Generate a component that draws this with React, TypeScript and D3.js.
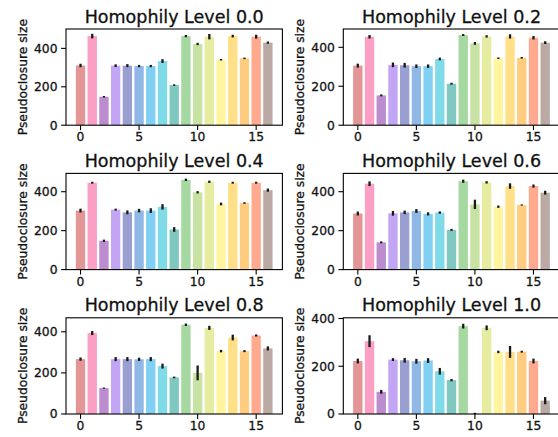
import React from "react";
import * as d3 from "d3";

const categories = d3.range(17);
const levels = ["0.0", "0.2", "0.4", "0.6", "0.8", "1.0"];

const means00 = [311, 464, 148, 310, 310, 308, 308, 334, 209, 464, 423, 461, 341, 464, 348, 461, 430];
const errs00 = [9, 12, 4, 7, 8, 6, 6, 10, 4, 6, 6, 14, 4, 7, 4, 10, 6];
const means02 = [306, 454, 153, 310, 308, 303, 303, 340, 213, 463, 420, 456, 344, 456, 346, 449, 424];
const errs02 = [10, 9, 5, 12, 12, 9, 9, 7, 5, 5, 7, 6, 4, 11, 4, 9, 7];
const means04 = [303, 446, 148, 308, 294, 303, 303, 322, 206, 461, 397, 451, 337, 446, 342, 446, 408];
const errs04 = [10, 5, 6, 5, 10, 9, 12, 14, 12, 6, 6, 6, 7, 5, 4, 5, 8];
const means06 = [288, 441, 140, 289, 294, 301, 286, 293, 204, 454, 335, 448, 323, 429, 332, 429, 395];
const errs06 = [10, 12, 5, 12, 9, 10, 8, 6, 5, 8, 24, 6, 6, 14, 3, 8, 10];
const means08 = [267, 394, 126, 267, 267, 266, 267, 233, 178, 434, 200, 419, 306, 372, 306, 382, 319];
const errs08 = [8, 10, 3, 10, 10, 8, 10, 12, 4, 6, 36, 10, 6, 14, 5, 5, 10];
const means10 = [222, 305, 93, 228, 225, 221, 224, 179, 142, 368, 2, 361, 260, 260, 261, 222, 56];
const errs10 = [10, 25, 8, 6, 10, 10, 10, 14, 5, 10, 3, 10, 5, 25, 4, 10, 15];

const yMaxes = [501, 494, 494, 494, 468, 403];
const yTicks = [0, 200, 400];
const xTicks = [0, 5, 10, 15];

const colors = [
  "#e49595", "#fb9fc4", "#bb8dcf", "#c2a6f5", "#9a9fd2", "#8fb8e6",
  "#80d0f4", "#80dbe8", "#7fc8c0", "#a6d8a2", "#c8e2a4", "#e6eca0",
  "#fff59e", "#ffe088", "#ffcc80", "#ffaa8e", "#baaaa3",
];

const panels = [
  { means: means00, errs: errs00 },
  { means: means02, errs: errs02 },
  { means: means04, errs: errs04 },
  { means: means06, errs: errs06 },
  { means: means08, errs: errs08 },
  { means: means10, errs: errs10 },
];

const W = 558;
const H = 437;
const colLeft = [66, 343.3];
const rowTop = [29, 173.4, 317.8];
const axW = 216.4;
const axH = 96.2;
const FONT = "DejaVu Sans, sans-serif";
const TXT = { fontFamily: FONT, fill: "#111", stroke: "#111", strokeWidth: 0.3 } as const;

function Panel({ idx }: { idx: number }) {
  const col = idx % 2;
  const row = Math.floor(idx / 2);
  const x0 = colLeft[col];
  const y0 = rowTop[row];
  const { means, errs } = panels[idx];
  const x = d3.scaleLinear().domain([-1.24, 17.24]).range([x0, x0 + axW]);
  const y = d3.scaleLinear().domain([0, yMaxes[idx]]).range([y0 + axH, y0]);
  const bw = x(0.8) - x(0);
  return (
    <g>
      {categories.map((c, i) => (
        <rect
          key={"b" + i}
          x={x(c - 0.4)}
          y={y(means[i])}
          width={bw}
          height={y(0) - y(means[i])}
          fill={colors[i]}
        />
      ))}
      {categories.map((c, i) => (
        <line
          key={"e" + i}
          x1={x(c)}
          x2={x(c)}
          y1={y(means[i] - errs[i])}
          y2={y(means[i] + errs[i])}
          stroke="#1a1a1a"
          strokeWidth={2.3}
        />
      ))}
      <rect x={x0} y={y0} width={axW} height={axH} fill="none" stroke="#000" strokeWidth={1.1} />
      {yTicks.map((t) => (
        <g key={"yt" + t}>
          <line x1={x0 - 4.9} x2={x0} y1={y(t)} y2={y(t)} stroke="#000" strokeWidth={1.1} />
          <text x={x0 - 8.5} y={y(t)} dy="0.36em" textAnchor="end" fontSize={12.3} {...TXT}>
            {t}
          </text>
        </g>
      ))}
      {xTicks.map((t) => (
        <g key={"xt" + t}>
          <line x1={x(t)} x2={x(t)} y1={y0 + axH} y2={y0 + axH + 4.9} stroke="#000" strokeWidth={1.1} />
          <text x={x(t)} y={y0 + axH + 16.2} textAnchor="middle" fontSize={12.3} {...TXT}>
            {t}
          </text>
        </g>
      ))}
      <text x={x0 + axW / 2} y={y0 - 6.5} textAnchor="middle" fontSize={17.5} {...TXT}>
        {"Homophily Level " + levels[idx]}
      </text>
      <text
        transform={`translate(${x0 - 39},${y0 + axH / 2}) rotate(-90)`}
        textAnchor="middle"
        fontSize={12.3}
        {...TXT}
      >
        Pseudoclosure size
      </text>
    </g>
  );
}

export default function App() {
  return (
    <svg
      width={W}
      height={H}
      style={{ position: "absolute", left: 0, top: 0, background: "#fff" }}
    >
      <rect x={0} y={0} width={W} height={H} fill="#fff" />
      {panels.map((_, i) => (
        <Panel key={i} idx={i} />
      ))}
    </svg>
  );
}
